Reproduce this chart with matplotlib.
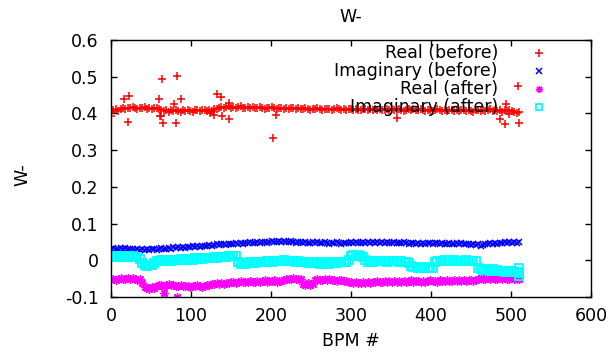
import matplotlib
matplotlib.use("Agg")
import matplotlib.pyplot as plt
from matplotlib.ticker import FuncFormatter
import numpy as np

plt.rcParams["font.family"] = ["DejaVu Sans"]
plt.rcParams["axes.unicode_minus"] = False

# -------- data (BPM index every 3 BPMs, 0..510) --------
bpm = np.arange(0, 511, 3)

real_before = [
    0.405, 0.409, 0.411, 0.407, 0.412, 0.415, 0.413, 0.416, 0.414, 0.417,
    0.415, 0.413, 0.416, 0.414, 0.417, 0.413, 0.415, 0.412, 0.416, 0.414,
    0.412, 0.409, 0.406, 0.408, 0.405, 0.408, 0.406, 0.409, 0.407, 0.405,
    0.408, 0.406, 0.409, 0.407, 0.405, 0.408, 0.410, 0.406, 0.408, 0.409,
    0.407, 0.410, 0.406, 0.411, 0.413, 0.416, 0.418, 0.415, 0.417, 0.419,
    0.416, 0.418, 0.415, 0.417, 0.419, 0.416, 0.414, 0.417, 0.415, 0.418,
    0.416, 0.414, 0.417, 0.415, 0.413, 0.416, 0.414, 0.417, 0.415, 0.413,
    0.416, 0.414, 0.412, 0.415, 0.413, 0.416, 0.414, 0.412, 0.415, 0.413,
    0.411, 0.414, 0.412, 0.410, 0.413, 0.411, 0.414, 0.412, 0.410, 0.413,
    0.411, 0.413, 0.410, 0.412, 0.414, 0.411, 0.409, 0.412, 0.410, 0.413,
    0.411, 0.409, 0.412, 0.410, 0.408, 0.411, 0.413, 0.410, 0.412, 0.409,
    0.411, 0.409, 0.412, 0.410, 0.408, 0.411, 0.409, 0.412, 0.410, 0.408,
    0.411, 0.409, 0.407, 0.410, 0.412, 0.409, 0.411, 0.408, 0.410, 0.412,
    0.409, 0.407, 0.410, 0.408, 0.406, 0.409, 0.411, 0.408, 0.406, 0.409,
    0.407, 0.410, 0.408, 0.406, 0.409, 0.407, 0.410, 0.408, 0.406, 0.409,
    0.407, 0.405, 0.408, 0.410, 0.407, 0.409, 0.406, 0.408, 0.411, 0.407,
    0.409, 0.406, 0.408, 0.405, 0.410, 0.407, 0.409, 0.406, 0.404, 0.402, 0.405,
]
# scattered points of the same series away from the main band
real_before_out_x = [0, 16, 21, 23, 60, 61, 63, 64, 65, 79, 81, 82, 88, 124, 129, 133,
                     137, 139, 147, 148, 203, 206, 358, 486, 492, 494, 497, 509, 510]
real_before_out_y = [0.394, 0.439, 0.378, 0.448, 0.440, 0.394, 0.392, 0.494, 0.374, 0.426,
                     0.375, 0.503, 0.440, 0.400, 0.395, 0.453, 0.446, 0.392, 0.385, 0.428,
                     0.332, 0.396, 0.387, 0.385, 0.370, 0.425, 0.398, 0.474, 0.373]

imag_before = [
    0.031, 0.033, 0.030, 0.032, 0.034, 0.031, 0.033, 0.030, 0.032, 0.031,
    0.029, 0.031, 0.028, 0.030, 0.029, 0.031, 0.028, 0.030, 0.032, 0.029,
    0.031, 0.033, 0.030, 0.032, 0.034, 0.032, 0.035, 0.033, 0.035, 0.034,
    0.036, 0.034, 0.037, 0.035, 0.038, 0.036, 0.039, 0.037, 0.040, 0.038,
    0.040, 0.042, 0.039, 0.042, 0.044, 0.041, 0.043, 0.045, 0.042, 0.044,
    0.045, 0.043, 0.046, 0.044, 0.047, 0.045, 0.048, 0.046, 0.049, 0.047,
    0.048, 0.050, 0.047, 0.049, 0.051, 0.048, 0.050, 0.052, 0.049, 0.051,
    0.052, 0.050, 0.053, 0.051, 0.049, 0.052, 0.050, 0.048, 0.051, 0.049,
    0.047, 0.050, 0.048, 0.046, 0.049, 0.047, 0.050, 0.048, 0.046, 0.049,
    0.047, 0.045, 0.048, 0.046, 0.049, 0.047, 0.045, 0.048, 0.046, 0.047,
    0.049, 0.047, 0.050, 0.048, 0.046, 0.049, 0.047, 0.050, 0.048, 0.049,
    0.047, 0.050, 0.048, 0.049, 0.047, 0.050, 0.048, 0.046, 0.049, 0.047,
    0.048, 0.046, 0.049, 0.047, 0.045, 0.048, 0.046, 0.044, 0.047, 0.045,
    0.047, 0.044, 0.046, 0.048, 0.045, 0.047, 0.046, 0.044, 0.046, 0.045,
    0.044, 0.046, 0.043, 0.045, 0.047, 0.044, 0.046, 0.043, 0.045, 0.044,
    0.042, 0.044, 0.041, 0.043, 0.040, 0.042, 0.045, 0.043, 0.046, 0.044,
    0.047, 0.045, 0.048, 0.046, 0.049, 0.047, 0.050, 0.048, 0.049, 0.047, 0.050,
]

real_after = [
    -0.052, -0.050, -0.053, -0.051, -0.049, -0.052, -0.050, -0.048, -0.051, -0.049,
    -0.051, -0.053, -0.050, -0.062, -0.072, -0.075, -0.077, -0.074, -0.076, -0.070,
    -0.068, -0.066, -0.069, -0.067, -0.065, -0.068, -0.066, -0.069, -0.070, -0.068,
    -0.071, -0.069, -0.070, -0.072, -0.069, -0.071, -0.068, -0.070, -0.072, -0.069,
    -0.068, -0.066, -0.064, -0.065, -0.063, -0.065, -0.062, -0.064, -0.061, -0.063,
    -0.060, -0.058, -0.061, -0.059, -0.057, -0.060, -0.058, -0.059, -0.057, -0.059,
    -0.058, -0.056, -0.059, -0.057, -0.055, -0.058, -0.056, -0.057, -0.055, -0.058,
    -0.056, -0.057, -0.055, -0.052, -0.050, -0.052, -0.049, -0.051, -0.050, -0.052,
    -0.064, -0.066, -0.063, -0.067, -0.065, -0.054, -0.052, -0.055, -0.053, -0.051,
    -0.054, -0.052, -0.055, -0.053, -0.056, -0.054, -0.055, -0.057, -0.056, -0.058,
    -0.060, -0.062, -0.059, -0.061, -0.063, -0.060, -0.062, -0.059, -0.061, -0.058,
    -0.060, -0.057, -0.059, -0.058, -0.056, -0.059, -0.057, -0.058, -0.056, -0.059,
    -0.057, -0.058, -0.056, -0.058, -0.057, -0.055, -0.058, -0.056, -0.057, -0.059,
    -0.056, -0.058, -0.057, -0.055, -0.057, -0.056, -0.058, -0.055, -0.057, -0.056,
    -0.055, -0.057, -0.056, -0.054, -0.056, -0.055, -0.057, -0.054, -0.056, -0.055,
    -0.054, -0.056, -0.055, -0.051, -0.049, -0.052, -0.050, -0.048, -0.051, -0.049,
    -0.050, -0.052, -0.049, -0.051, -0.048, -0.050, -0.052, -0.049, -0.051, -0.050, -0.052,
]
real_after_out_x = [66, 83]
real_after_out_y = [-0.088, -0.099]

imag_after = [
    0.011, 0.008, 0.012, 0.009, 0.013, 0.010, 0.008, 0.011, 0.009, 0.012,
    0.010, 0.008, 0.004, -0.008, -0.013, -0.015, -0.012, -0.014, -0.008, -0.002,
    -0.001, 0.001, -0.002, 0.000, 0.002, -0.001, 0.001, 0.002, 0.000, 0.003,
    0.001, 0.003, 0.002, 0.004, 0.002, 0.005, 0.003, 0.006, 0.004, 0.006,
    0.005, 0.007, 0.006, 0.008, 0.007, 0.009, 0.008, 0.010, 0.009, 0.011,
    0.012, 0.013, 0.011, -0.006, -0.010, -0.008, -0.009, -0.007, -0.006, -0.007,
    -0.008, -0.005, -0.006, -0.004, -0.005, -0.003, -0.002, -0.004, -0.001, -0.003,
    -0.001, -0.002, 0.000, -0.002, -0.001, -0.003, -0.002, -0.004, -0.003, -0.005,
    -0.006, -0.004, -0.007, -0.005, -0.008, -0.006, -0.007, -0.009, -0.006, -0.008,
    -0.007, -0.009, -0.006, -0.008, -0.007, -0.005, -0.006, -0.004, -0.005, 0.002,
    0.011, 0.014, 0.013, 0.015, 0.012, 0.010, 0.002, -0.004, -0.003, -0.005,
    -0.002, -0.003, -0.001, -0.003, -0.002, -0.004, -0.003, -0.001, -0.003, -0.002,
    -0.004, -0.003, -0.005, -0.004, -0.008, -0.015, -0.018, -0.017, -0.020, -0.022,
    -0.019, -0.021, -0.020, -0.018, -0.021, -0.005, -0.002, -0.001, -0.003, 0.000,
    -0.002, -0.001, -0.003, 0.000, -0.002, -0.001, -0.003, -0.002, 0.000, -0.002,
    -0.001, -0.003, -0.002, -0.022, -0.025, -0.027, -0.024, -0.026, -0.028, -0.025,
    -0.029, -0.026, -0.030, -0.028, -0.031, -0.029, -0.032, -0.030, -0.033, -0.031, -0.034,
]
imag_after_out_x = [510, 510]
imag_after_out_y = [-0.020, -0.042]

labels = ["Real (before)", "Imaginary (before)", "Real (after)", "Imaginary (after)"]
colors = ["#ff0000", "#0000ff", "#ff00ff", "#00ffff"]

# -------- figure --------
fig = plt.figure(figsize=(6.13, 3.53), dpi=100)
ax = fig.add_axes([111 / 613, 1 - 297 / 353, 480 / 613, 257 / 353])

styles = [
    dict(marker="+", ms=6, mew=1.1, color=colors[0], ls="none"),
    dict(marker="x", ms=5, mew=1.1, color=colors[1], ls="none"),
    dict(marker=(8, 2, 0), ms=6, mew=1.0, color=colors[2], ls="none"),
    dict(marker="s", ms=5.5, mew=1.3, mec=colors[3], mfc="none", ls="none"),
]
key_ms = [6, 4.5, 5, 4.5]

ax.plot(bpm, real_before, **styles[0])
ax.plot(real_before_out_x, real_before_out_y, **styles[0])
ax.plot(bpm, imag_before, **styles[1])
ax.plot(bpm, real_after, **styles[2])
ax.plot(real_after_out_x, real_after_out_y, **styles[2])
ax.plot(bpm, imag_after, **styles[3])
ax.plot(imag_after_out_x, imag_after_out_y, **styles[3])

ax.set_xlim(0, 600)
ax.set_ylim(-0.1, 0.6)
ax.set_xticks(np.arange(0, 601, 100))
ax.set_yticks(np.round(np.arange(-0.1, 0.61, 0.1), 1))
ax.yaxis.set_major_formatter(FuncFormatter(lambda v, p: f"{v:g}"))
ax.tick_params(direction="in", length=4, width=1, top=True, right=True,
               labelsize=12.5, pad=9, colors="black")
ax.tick_params(axis="x", pad=7)
for s in ax.spines.values():
    s.set_linewidth(1.0)

# gnuplot-style key: right-aligned text, symbol to the right
rows_y = [0.949, 0.879, 0.811, 0.741]
for lab, st, yy, kms in zip(labels, styles, rows_y, key_ms):
    ax.text(0.806, yy, lab, transform=ax.transAxes, ha="right", va="center", fontsize=12.5)
    kst = dict(st, ms=kms)
    ax.plot([0.892], [yy], transform=ax.transAxes, clip_on=False, **kst)

fig.text(351 / 613, 1 - 17 / 353, "W-", ha="center", va="center", fontsize=12.5)
fig.text(351 / 613, 1 - 341 / 353, "BPM #", ha="center", va="center", fontsize=12.5)
fig.text(22 / 613, 1 - 175 / 353, "W-", ha="center", va="center", fontsize=12.5, rotation=90)

fig.savefig("out.png", dpi=100)
